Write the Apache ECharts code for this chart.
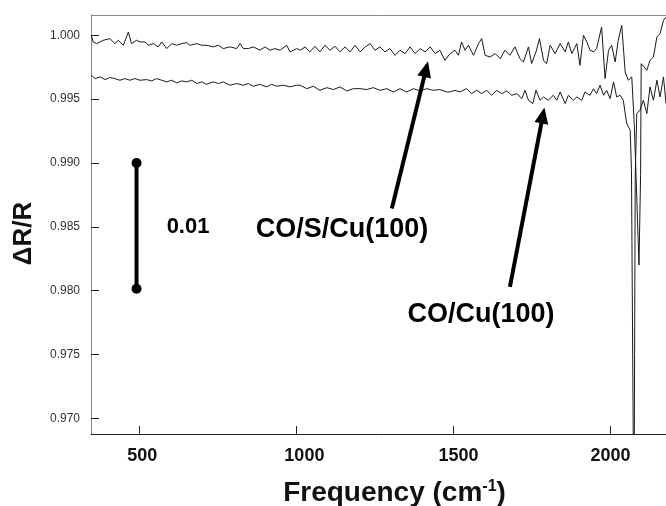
<!DOCTYPE html>
<html><head><meta charset="utf-8">
<script src="https://cdn.jsdelivr.net/npm/echarts@6/dist/echarts.min.js"></script>
<style>html,body{margin:0;padding:0;background:#fff}#c{width:666px;height:506px}</style>
</head><body><div id="c"></div><script>
// CO/S/Cu(100) trace
const upperFreq=[347,353,364,385,406,422,433,449,465,475,491,502,518,529,545,560,571,578,587,603,619,635,651,661,683,698,714,736,752,767,789,810,821,831,847,863,884,900,916,932,948,969,980,1001,
1012,1028,1043,1059,1075,1091,1107,1123,1139,1155,1171,1187,1203,1219,1235,1250,1266,1282,1298,1314,1330,1346,1362,1378,1394,1410,1426,1442,1457,1473,
1489,1505,1516,1526,1537,1548,1564,1580,1590,1601,1617,1633,1649,1664,1680,1696,1712,1723,1739,1749,1763,1774,1787,1797,1808,1824,1840,1856,1866,1877,1893,1903,1914,1925,1935,1946,1956,1972,1983,1994,2004,2015,2025,2036,2047,2057,2068,2076,2082,2091,2096,2098,2116,2126,2137,2148,2158,2169,2177];
const upperVal=[1.0000,0.99948,0.99935,0.99961,0.99974,0.99935,0.99961,0.99922,1.00026,0.99935,0.99961,0.99948,0.99948,0.99922,0.99935,0.99909,0.99948,0.99927,0.99896,0.99935,0.99922,0.99935,0.99943,0.99922,0.99935,0.99922,0.99922,0.99909,0.99922,0.99896,0.99909,0.99896,0.99935,0.99896,0.99896,0.99909,0.99883,0.99909,0.99883,0.99896,0.99883,0.99922,0.99870,0.99896,
0.99883,0.99909,0.99870,0.99914,0.99870,0.99922,0.99883,0.99914,0.99870,0.99909,0.99870,0.99922,0.99870,0.99909,0.99935,0.99883,0.99909,0.99870,0.99896,0.99843,0.99883,0.99857,0.99909,0.99857,0.99896,0.99870,0.99909,0.99857,0.99883,0.99804,
0.99855,0.99883,0.99843,0.99948,0.99883,0.99922,0.99843,0.99935,0.99974,0.99843,0.99830,0.99857,0.99817,0.99883,0.99843,0.99909,0.99817,0.99791,0.99909,0.99778,0.99870,0.99974,0.99804,0.99778,0.99922,0.99857,0.99935,0.99870,0.99948,0.99857,0.99935,0.99765,1.00000,0.99948,0.99883,0.99870,0.99896,1.00065,0.99661,0.99883,0.99922,0.99791,0.99961,1.00078,0.99713,0.99648,0.99674,0.9930,0.9887,0.9820,0.9890,0.99778,0.99726,0.99804,0.99830,0.99987,1.00013,1.00117,1.00144];
// CO/Cu(100) trace
const lowerFreq=[347,359,375,391,406,422,438,454,470,486,502,523,539,555,571,587,603,619,635,651,667,683,698,714,736,752,767,789,810,831,847,863,884,905,921,937,958,980,1001,
1012,1033,1054,1075,1097,1118,1139,1160,1181,1203,1224,1245,1266,1288,1309,1330,1351,1373,1394,1415,1436,1457,1479,
1489,1505,1521,1542,1558,1574,1590,1606,1622,1638,1654,1670,1686,1702,1718,1728,1739,1753,1763,1776,1787,1802,1818,1829,1840,1856,1866,1882,1893,1909,1919,1935,1946,1956,1967,1978,1988,1999,2010,2020,2031,2041,2052,2063,2067,2075,2077,2079,2084,2094,2105,2116,2126,2137,2148,2158,2169,2177];
const lowerVal=[0.99687,0.99661,0.99674,0.99653,0.99669,0.99661,0.99648,0.99661,0.99648,0.99661,0.99648,0.99653,0.99643,0.99661,0.99648,0.99635,0.99648,0.99627,0.99643,0.99635,0.99648,0.99622,0.99635,0.99616,0.99635,0.99622,0.99635,0.99609,0.99622,0.99609,0.99622,0.99601,0.99616,0.99596,0.99616,0.99601,0.99609,0.99596,0.99609,
0.99609,0.99582,0.99601,0.99569,0.99590,0.99575,0.99596,0.99564,0.99582,0.99582,0.99575,0.99590,0.99569,0.99582,0.99556,0.99582,0.99556,0.99582,0.99564,0.99582,0.99569,0.99575,0.99556,
0.99556,0.99569,0.99556,0.99582,0.99543,0.99569,0.99543,0.99569,0.99530,0.99569,0.99543,0.99564,0.99530,0.99543,0.99504,0.99569,0.99491,0.99465,0.99569,0.99491,0.99517,0.99491,0.99530,0.99491,0.99556,0.99465,0.99530,0.99491,0.99517,0.99491,0.99556,0.99530,0.99582,0.99543,0.99609,0.99530,0.99569,0.99504,0.99635,0.99517,0.99530,0.99491,0.99308,0.99256,0.9895,0.9600,0.9750,0.9890,0.99387,0.99413,0.99491,0.99387,0.99596,0.99491,0.99648,0.99517,0.99674,0.99465];

const xTicks=[500,1000,1500,2000];
const yTicks=[0.970,0.975,0.980,0.985,0.990,0.995,1.000];
const scaleBarX=[491,491];
const scaleBarY=[0.990,0.98015];
const labelTexts=['CO/S/Cu(100)','CO/Cu(100)','0.01'];
const labelX=[1145,1588,655];
const labelY=[0.98482,0.97816,0.98497];
const arrowFrom=[[1304,0.98644],[1680,0.98030]];
const arrowTo=[[1413,0.99735],[1785,0.99372]];

const FONT='"Liberation Sans", Arial, Helvetica, sans-serif';
const zip=(a,b)=>a.map((v,i)=>[v,b[i]]);
// small horizontal shifts of the x tick labels, as in the original figure
const xLabelShift={500:'p6',1000:'p16',1500:'p10',2000:'p0'};
const xRichBase={fontSize:18,fontWeight:'bold',color:'#111',fontFamily:FONT};
const xRich={p0:Object.assign({},xRichBase),p6:Object.assign({padding:[0,0,0,6]},xRichBase),p10:Object.assign({padding:[0,0,0,10]},xRichBase),p16:Object.assign({padding:[0,0,0,16]},xRichBase)};

const chart=echarts.init(document.getElementById('c'),null,{renderer:'canvas'});
chart.setOption({
  animation:false,
  backgroundColor:'#fff',
  grid:{left:91,right:0,top:15,bottom:72,containLabel:false,outerBoundsMode:'none'},
  xAxis:[{
    type:'value',min:346,max:2177,position:'bottom',
    axisLine:{show:true,lineStyle:{color:'#222',width:1}},
    axisTick:{show:true,inside:true,length:8,customValues:xTicks,lineStyle:{color:'#222',width:1}},
    axisLabel:{show:true,customValues:xTicks,margin:13,fontSize:18,fontWeight:'bold',color:'#111',fontFamily:FONT,
      formatter:v=>'{'+(xLabelShift[v]||'p0')+'|'+String(v)+'}',rich:xRich},
    splitLine:{show:false},
    name:'{a|Frequency (cm}{s|-1}{a|)}',nameLocation:'middle',nameGap:45,
    nameTextStyle:{padding:[0,0,0,32],rich:{a:{fontSize:28,fontWeight:'bold',color:'#111',fontFamily:FONT},s:{fontSize:16,fontWeight:'bold',color:'#111',fontFamily:FONT,verticalAlign:'top',padding:[0,0,10,0]}}}
  },{
    type:'value',min:346,max:2177,position:'top',
    axisLine:{show:true,lineStyle:{color:'#888',width:1}},
    axisTick:{show:false},axisLabel:{show:false},splitLine:{show:false}
  }],
  yAxis:{
    type:'value',min:0.96877,max:1.00159,
    axisLine:{show:true,lineStyle:{color:'#888',width:1}},
    axisTick:{show:true,inside:true,length:8,customValues:yTicks,lineStyle:{color:'#222',width:1}},
    axisLabel:{show:true,customValues:yTicks,margin:11,fontSize:12,color:'#333',fontFamily:FONT,formatter:v=>v.toFixed(3)},
    splitLine:{show:false},
    name:'\u0394R/R',nameLocation:'middle',nameGap:54,
    nameTextStyle:{fontSize:26,fontWeight:'bold',color:'#111',fontFamily:FONT,padding:[0,18,0,0]}
  },
  series:[
    {type:'line',data:zip(upperFreq,upperVal),showSymbol:false,symbol:'none',clip:true,lineStyle:{color:'#1a1a1a',width:1}},
    {type:'line',data:zip(lowerFreq,lowerVal),showSymbol:false,symbol:'none',clip:true,lineStyle:{color:'#1a1a1a',width:1}},
    {type:'line',data:zip(scaleBarX,scaleBarY),symbol:'circle',symbolSize:10,showSymbol:true,lineStyle:{color:'#000',width:4},itemStyle:{color:'#000'}},
    {type:'scatter',symbolSize:0,silent:true,itemStyle:{opacity:1},
      data:labelTexts.map((t,i)=>({name:t,value:[labelX[i],labelY[i]],label:{fontSize:i===2?22:27}})),
      label:{show:true,position:'inside',formatter:'{b}',fontWeight:'bold',color:'#000',opacity:1,fontFamily:FONT},
      markLine:{silent:true,symbol:['none','triangle'],symbolSize:[14,16],
        lineStyle:{color:'#000',width:4,type:'solid',opacity:1},label:{show:false},
        data:arrowFrom.map((f,i)=>[{coord:f},{coord:arrowTo[i]}])}
    }
  ]
});
</script></body></html>
